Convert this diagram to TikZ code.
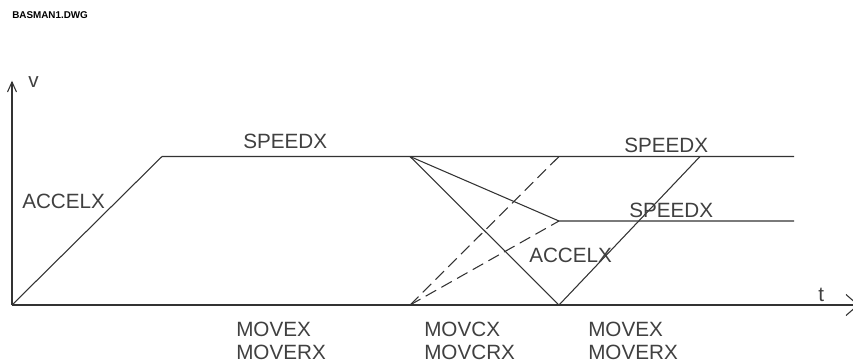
\documentclass[tikz,border=0pt]{standalone}
\usepackage{fontspec}
\setmainfont{Liberation Sans}
\begin{document}
\begin{tikzpicture}[x=0.75pt,y=-0.75pt,
  ln/.style={line width=0.8pt,draw=black!80},
  dsh/.style={ln,dash pattern=on 9pt off 4.5pt},
  lbl/.style={inner sep=0pt,anchor=base west,font=\fontsize{15.5}{16}\selectfont,text=black!75},
  ttl/.style={inner sep=0pt,anchor=base west,font=\bfseries\fontsize{7.4}{8}\selectfont}]
\useasboundingbox (0,0) rectangle (853,362);
% key points
\coordinate (O) at (12,305);
\coordinate (Ytop) at (12,82);
\coordinate (Yl) at (7.5,92);
\coordinate (Yr) at (16.5,92);
\coordinate (Xend) at (858,305);
\coordinate (Xu) at (846,294.5);
\coordinate (Xd) at (846,315.5);
\coordinate (A) at (162,156.5);
\coordinate (B) at (410,156.5);
\coordinate (Bb) at (410,305);
\coordinate (D) at (559,156.5);
\coordinate (C) at (559,221);
\coordinate (Vb) at (559,305);
\coordinate (M) at (700,156.5);
\coordinate (E1) at (794,156.5);
\coordinate (E2) at (794,221);
% axes
\draw[ln] (O) -- (Ytop);
\draw[ln] (Yl) -- (Ytop) -- (Yr);
\draw[ln] (O) -- (Xend);
\draw[ln] (Xu) -- (Xend) -- (Xd);
% profile
\draw[ln] (O) -- (A) -- (E1);
\draw[ln] (B) -- (C) -- (E2);
\draw[ln] (B) -- (Vb) -- (M);
\draw[dsh] (Bb) -- (D);
\draw[dsh] (Bb) -- (C);
% labels
\node[ttl] (title) at (12,18) {BASMAN1.DWG};
\node[lbl] (v) at (28,87) {v};
\node[lbl] (t) at (818,301) {t};
\node[lbl] (sp1) at (243,148) {SPEEDX};
\node[lbl] (ac1) at (22,208) {ACCELX};
\node[lbl] (sp2) at (624,152) {SPEEDX};
\node[lbl] (sp3) at (629,217) {SPEEDX};
\node[lbl] (ac2) at (529,262) {ACCELX};
\node[lbl] (mv1) at (236,336) {MOVEX};
\node[lbl] (mr1) at (236,359) {MOVERX};
\node[lbl] (mc1) at (424,336) {MOVCX};
\node[lbl] (mcr) at (424,359) {MOVCRX};
\node[lbl] (mv2) at (588,336) {MOVEX};
\node[lbl] (mr2) at (588,359) {MOVERX};
\end{tikzpicture}
\end{document}
